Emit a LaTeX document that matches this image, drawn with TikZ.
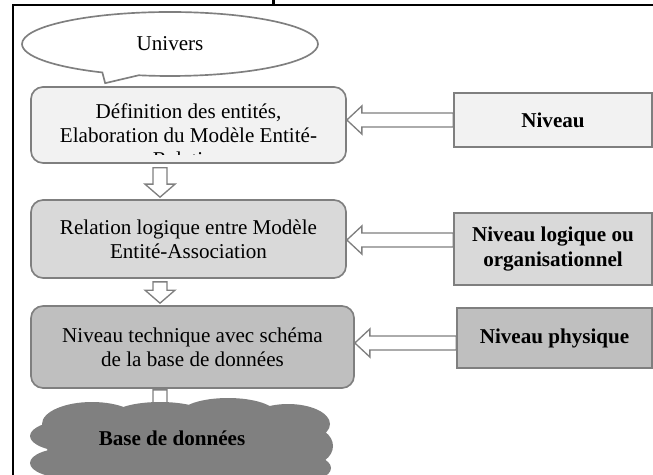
\documentclass[tikz,border=0pt]{standalone}
\usepackage{fontspec}
\setmainfont{Liberation Serif}
\usetikzlibrary{positioning, calc, shapes.callouts}

\definecolor{grisA}{HTML}{F2F2F2}
\definecolor{grisB}{HTML}{D9D9D9}
\definecolor{grisC}{HTML}{BFBFBF}
\definecolor{grisD}{HTML}{808080}
\definecolor{trait}{HTML}{7F7F7F}

% fleche creuse vers le bas : #1 depart, #2 pointe
\newcommand{\flechebas}[2]{%
  \draw[blocfleche] ($(#1)+(-7,0)$) -- ($(#2)+(-7,-13)$) -- ($(#2)+(-15,-13)$) -- (#2)
    -- ($(#2)+(15,-13)$) -- ($(#2)+(7,-13)$) -- ($(#1)+(7,0)$) -- cycle;}

% fleche creuse vers la gauche : #1 niveau, #2 etape, #3 decalage vertical
\newcommand{\flechegauche}[3]{%
  \coordinate (pointe) at ($(#2.east |- #1.west)+(0,#3)$);
  \draw[blocfleche] (pointe) -- ++(15,-14) -- ++(0,7) -- ($(pointe -| #1.west)+(0,-7)$)
    -- ($(pointe -| #1.west)+(0,7)$) -- ($(pointe)+(15,7)$) -- ++(0,7) -- cycle;}

\begin{document}
\begin{tikzpicture}[x=0.3mm, y=-0.3mm,
  texte/.style={font=\fontsize{18pt}{20.5pt}\selectfont, align=center},
  etape/.style={draw=trait, line width=0.5mm, rounded corners=3.6mm, inner sep=0pt, texte},
  niveau/.style={draw=trait, line width=0.5mm, inner sep=0pt, align=center,
    font=\bfseries\fontsize{18pt}{21pt}\selectfont},
  blocfleche/.style={draw=trait, line width=0.4mm, fill=white, line join=miter}]

  \useasboundingbox (0,0) rectangle (653,475);

  % Cadre
  \draw[line width=0.75mm] (13,475) -- (13,5) -- (653,5);
  \draw[line width=0.9mm] (273,0) -- (273,5);

  % Etapes
  \node[etape, fill=grisA, minimum width=94.5mm, minimum height=22.8mm] (def) at (188.5,125) {};
  \begin{scope}
    \clip ($(def.north west)+(0,3)$) rectangle ($(def.south east)+(0,-9)$);
    \node[texte] at (188.5,135) {Définition des entités,\\Elaboration du Modèle Entité-\\Relation};
  \end{scope}
  \node[etape, fill=grisB, minimum width=94.5mm, minimum height=23.4mm] (rel) at (188.5,239)
    {Relation logique entre Modèle\\Entité-Association};
  \node[etape, fill=grisC, minimum width=96.9mm, minimum height=24.6mm] (tech) at (192.5,347)
    {Niveau technique avec schéma\\de la base de données};

  % Niveaux
  \node[niveau, fill=grisA, minimum width=59.4mm, minimum height=16.2mm] (nivA) at (553,120) {Niveau};
  \node[niveau, fill=grisB, minimum width=59.4mm, minimum height=21.6mm] (nivB) at (553,249)
    {Niveau logique ou\\organisationnel};
  \node[niveau, fill=grisC, minimum width=58.5mm, minimum height=18mm] (nivC) at (554.5,338) {Niveau physique};

  % Univers
  \node[ellipse callout, draw=trait, line width=0.5mm, fill=white, inner sep=0pt, texte,
    minimum width=88.8mm, minimum height=19.2mm,
    callout absolute pointer={($(def.north west)+(75,-3)$)}] (univ) at (170,44) {Univers};

  % Fleches
  \coordinate (col) at (160,0);
  \coordinate (h1) at ($(col |- def.south)+(0,4)$);
  \coordinate (b1) at ($(col |- rel.north)+(0,-2)$);
  \coordinate (h2) at ($(col |- rel.south)+(0,3)$);
  \coordinate (b2) at ($(col |- tech.north)+(0,-2)$);
  \coordinate (h3) at ($(col |- tech.south)+(0,1)$);
  \coordinate (b3) at ($(col |- tech.south)+(0,28)$);
  \flechebas{h1}{b1}
  \flechebas{h2}{b2}
  \flechebas{h3}{b3}
  \flechegauche{nivA}{def}{0}
  \flechegauche{nivB}{rel}{-9}
  \flechegauche{nivC}{tech}{5}

  % Base de donnees (nuage)
  \fill[grisD] (182,448) ellipse [x radius=135, y radius=38]
    (92,424) ellipse [x radius=50, y radius=22]
    (160,416) ellipse [x radius=48, y radius=14]
    (228,414) ellipse [x radius=48, y radius=16]
    (288,424) ellipse [x radius=42, y radius=20]
    (72,436) ellipse [x radius=42, y radius=16]
    (68,463) ellipse [x radius=38, y radius=15]
    (306,446) ellipse [x radius=27, y radius=20]
    (296,468) ellipse [x radius=35, y radius=15];
  \node[font=\bfseries\fontsize{18pt}{21pt}\selectfont] (bd) at (172,438) {Base de données};
\end{tikzpicture}
\end{document}
